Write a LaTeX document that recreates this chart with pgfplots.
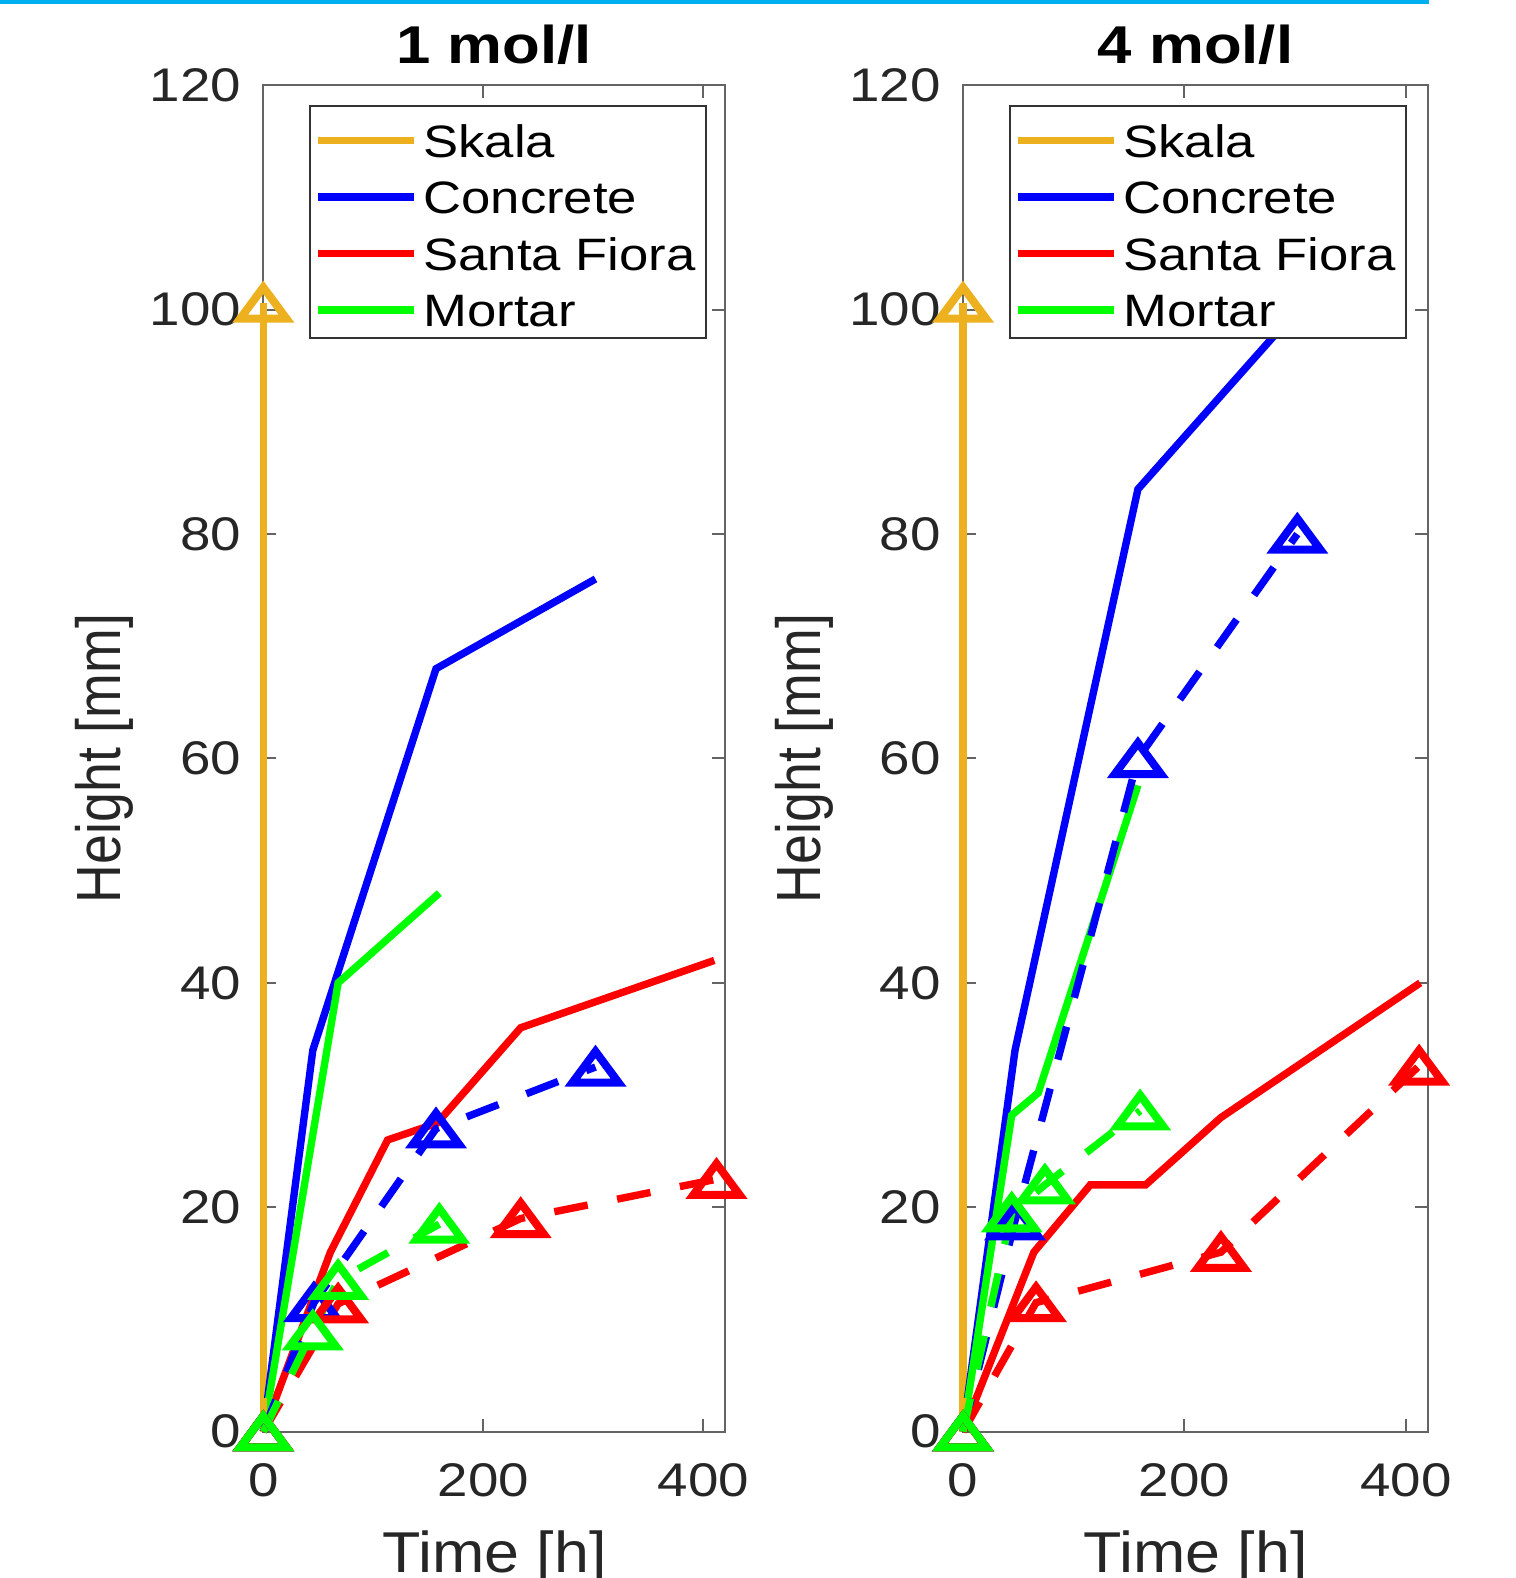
\documentclass[border=0pt]{standalone}
\usepackage{pgfplots}
\pgfplotsset{compat=1.18}
\usepackage{fontspec}
\setmainfont{Liberation Sans}
\newfontfamily\hfont[FakeStretch=1.16]{Liberation Sans}
\newfontfamily\xfont[FakeStretch=1.09]{Liberation Sans}
\newfontfamily\vfont[FakeStretch=0.86]{Liberation Sans}

\definecolor{skala}{RGB}{237,177,32}
\definecolor{mblue}{RGB}{0,0,255}
\definecolor{mred}{RGB}{255,0,0}
\definecolor{mgreen}{RGB}{0,255,0}
\definecolor{topcyan}{RGB}{0,176,240}
\definecolor{axgray}{RGB}{100,100,100}
\definecolor{txtgray}{RGB}{38,38,38}

\pgfdeclareplotmark{mtri}{%
  \pgfpathmoveto{\pgfqpoint{0pt}{\pgfplotmarksize}}%
  \pgfpathlineto{\pgfqpoint{1.48\pgfplotmarksize}{-\pgfplotmarksize}}%
  \pgfpathlineto{\pgfqpoint{-1.48\pgfplotmarksize}{-\pgfplotmarksize}}%
  \pgfpathclose
  \pgfusepathqstroke
}

\pgfplotsset{
  myax/.style={
    scale only axis, anchor=south west,
    height=336.6pt,
    xmin=0, xmax=420, ymin=0, ymax=120,
    xtick={0,200,400}, ytick={0,20,...,120},
    clip=false,
    axis line style={axgray, line width=0.5pt},
    tick style={axgray, line width=0.5pt},
    major tick length=3.25pt,
    tick align=inside,
    /pgf/number format/assume math mode=true,
    tick label style={font=\hfont\fontsize{11.8}{12}\selectfont, text=txtgray},
    xticklabel style={anchor=north, inner sep=0pt, yshift=-7.8pt},
    yticklabel style={anchor=east, inner sep=0pt, xshift=-5.4pt},
    every axis title shift=0pt,
    title style={font=\hfont\bfseries\fontsize{13.3}{14}\selectfont, at={(axis description cs:0.5,1.01634)}, anchor=base, inner sep=0pt},
    xlabel style={font=\xfont\fontsize{14.4}{15}\selectfont, at={(axis description cs:0.5,-0.1045)}, anchor=base, inner sep=0pt, text=txtgray},
    ylabel style={font=\vfont\fontsize{15.6}{16}\selectfont, anchor=base, inner sep=0pt, text=txtgray},
    legend style={at={(0.099,0.985)}, anchor=north west, draw=black!80, line width=0.5pt, fill=white,
      font=\hfont\fontsize{11.35}{12}\selectfont, inner xsep=1.1pt, inner ysep=0.725pt, row sep=0pt,
      nodes={inner xsep=1.4pt, inner ysep=0pt, text height=12pt, text depth=2.1pt}},
    legend cell align=left,
    legend image code/.code={\path[draw=none, fill=none] (0pt,-0.8pt) rectangle (24pt,4.45pt); \draw[##1, line width=1.85pt] (0pt,-0.8pt) -- (24pt,-0.8pt);},
  },
  sol/.style={line width=1.85pt, no markers},
  dsh/.style={line width=1.85pt, dash pattern=on 8.5pt off 7.5pt, mark=mtri, mark size=3.9pt,
    mark options={solid, line width=2pt}, forget plot},
}

\begin{document}
\begin{tikzpicture}
\useasboundingbox (0,0) rectangle (379pt,394.5pt);
\fill[topcyan] (0pt,393.5pt) rectangle (357.25pt,394.5pt);

% ---------------- left: 1 mol/l
\begin{axis}[myax, at={(65.83pt,36.58pt)}, width=115.5pt,
  title={1 mol/l}, xlabel={Time [h]}, ylabel={Height [mm]},
  ylabel style={at={(axis description cs:-0.3100,0.5)}}]
\addplot[sol, skala] coordinates {(0,0) (0,100.6)};
\addlegendentry{Skala}
\addplot[sol, mblue] coordinates {(0,0) (45,34) (157,68) (302,76)};
\addlegendentry{Concrete}
\addplot[sol, mred] coordinates {(0,0) (61,16) (113,26) (158,27.5) (234,36) (410,42)};
\addlegendentry{Santa Fiora}
\addplot[sol, mgreen] coordinates {(0,0) (68,40) (160,48)};
\addlegendentry{Mortar}
\addplot[dsh, skala] coordinates {(0,0) (0,100.6)};
\addplot[dsh, mblue] coordinates {(0,0) (46,11.5) (157,27) (302,32.5)};
\addplot[dsh, mred] coordinates {(0,0) (68,11.4) (234,19) (412,22.5)};
\addplot[dsh, mgreen] coordinates {(0,0) (45,9) (68,13.5) (160,18.5)};
\end{axis}

% ---------------- right: 4 mol/l
\begin{axis}[myax, at={(240.75pt,36.58pt)}, width=116.25pt,
  title={4 mol/l}, xlabel={Time [h]}, ylabel={Height [mm]},
  ylabel style={at={(axis description cs:-0.3075,0.5)}}]
\addplot[sol, skala] coordinates {(0,0) (0,100.6)};
\addlegendentry{Skala}
\addplot[sol, mblue] coordinates {(0,0) (47,34) (158,84) (302,100)};
\addlegendentry{Concrete}
\addplot[sol, mred] coordinates {(0,0) (64,16) (115,22) (165,22) (233,28) (413,40)};
\addlegendentry{Santa Fiora}
\addplot[sol, mgreen] coordinates {(0,0) (44,28.2) (68,30.2) (158,57.6)};
\addlegendentry{Mortar}
\addplot[dsh, skala] coordinates {(0,0) (0,100.6)};
\addplot[dsh, mblue] coordinates {(0,0) (47,18.8) (158,60) (302,80)};
\addplot[dsh, mred] coordinates {(0,0) (66,11.5) (233,16) (412,32.6)};
\addplot[dsh, mgreen] coordinates {(0,0) (44,19.5) (74,22) (160,28.6)};
\end{axis}
\end{tikzpicture}
\end{document}
